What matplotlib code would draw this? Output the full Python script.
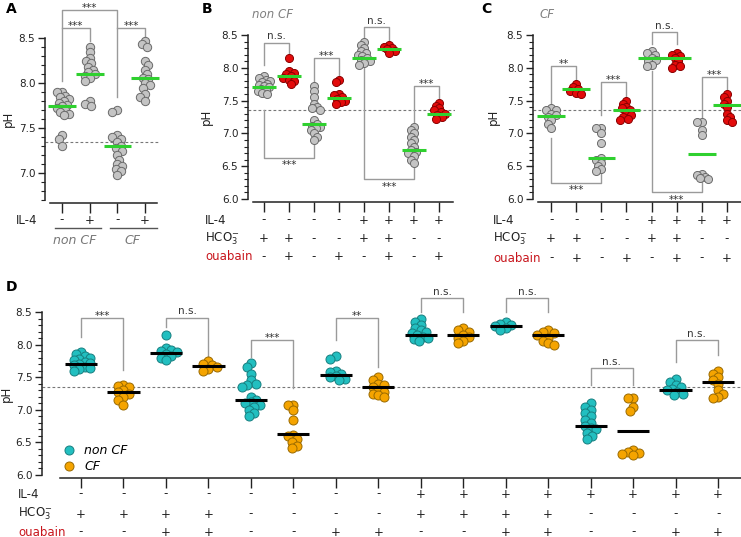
import numpy as np
import matplotlib.pyplot as plt
from matplotlib import transforms
from matplotlib.lines import Line2D
from matplotlib.ticker import MultipleLocator, FormatStrFormatter

W, H = 741, 537
plt.rcParams['font.family'] = ['DejaVu Sans']
plt.rcParams['mathtext.fontset'] = 'dejavusans'

# ---------------- data ----------------
# A: non CF -IL-4, non CF +IL-4, CF -IL-4, CF +IL-4
a_groups = [
    [7.90, 7.90, 7.86, 7.84, 7.82, 7.80, 7.78, 7.76, 7.74, 7.72, 7.70, 7.68, 7.66, 7.64, 7.42, 7.38, 7.30],
    [8.40, 8.34, 8.28, 8.24, 8.22, 8.18, 8.15, 8.12, 8.10, 8.08, 8.05, 8.02, 7.80, 7.77, 7.75],
    [7.70, 7.68, 7.42, 7.40, 7.38, 7.34, 7.30, 7.28, 7.25, 7.20, 7.15, 7.10, 7.08, 7.05, 7.02, 6.98],
    [8.47, 8.43, 8.40, 8.24, 8.20, 8.15, 8.10, 8.06, 8.04, 8.00, 7.98, 7.95, 7.88, 7.85, 7.80],
]
a_means = [7.75, 8.10, 7.30, 8.05]
a_il4 = ['-', '+', '-', '+']

# B: non CF, 8 conditions
b_groups = [
    [7.88, 7.85, 7.82, 7.80, 7.78, 7.76, 7.74, 7.72, 7.70, 7.68, 7.66, 7.64, 7.62, 7.60],
    [8.15, 7.95, 7.92, 7.90, 7.88, 7.85, 7.82, 7.80, 7.76],
    [7.72, 7.65, 7.55, 7.45, 7.40, 7.38, 7.35, 7.20, 7.15, 7.12, 7.10, 7.08, 7.05, 7.00, 6.95, 6.90],
    [7.82, 7.78, 7.60, 7.58, 7.55, 7.52, 7.50, 7.48, 7.45],
    [8.40, 8.35, 8.30, 8.25, 8.22, 8.20, 8.18, 8.15, 8.12, 8.10, 8.08, 8.05],
    [8.35, 8.32, 8.30, 8.28, 8.25, 8.22],
    [7.10, 7.05, 7.00, 6.95, 6.90, 6.85, 6.80, 6.75, 6.72, 6.70, 6.65, 6.60, 6.55],
    [7.47, 7.42, 7.38, 7.35, 7.32, 7.30, 7.28, 7.25, 7.22],
]
b_means = [7.71, 7.87, 7.15, 7.54, 8.15, 8.29, 6.75, 7.30]

# C: CF, 8 conditions
c_groups = [
    [7.38, 7.36, 7.35, 7.30, 7.28, 7.25, 7.20, 7.15, 7.08],
    [7.75, 7.70, 7.68, 7.65, 7.62, 7.60],
    [7.08, 7.08, 7.00, 6.85, 6.62, 6.60, 6.55, 6.50, 6.45, 6.42],
    [7.50, 7.45, 7.40, 7.38, 7.35, 7.30, 7.28, 7.25, 7.22, 7.20],
    [8.25, 8.22, 8.20, 8.15, 8.12, 8.10, 8.05, 8.02],
    [8.22, 8.20, 8.18, 8.15, 8.10, 8.05, 8.02, 8.00],
    [7.18, 7.18, 7.05, 6.98, 6.38, 6.36, 6.34, 6.32, 6.30],
    [7.60, 7.55, 7.50, 7.45, 7.40, 7.30, 7.25, 7.20, 7.18],
]
c_means = [7.27, 7.67, 6.63, 7.35, 8.15, 8.15, 6.68, 7.43]

il4 = ['-', '-', '-', '-', '+', '+', '+', '+']
hco3 = ['+', '+', '-', '-', '+', '+', '-', '-']
ouabain = ['-', '+', '-', '+', '-', '+', '-', '+']

# brackets: (x1, x2, level, end1, end2, label)
a_sig = [(1, 3, 8.81, 8.02, 7.84, '***'), (1, 2, 8.61, 8.61, 8.47, '***'),
         (3, 4, 8.61, 8.61, 8.47, '***')]
b_sig = [(1, 2, 8.38, 8.05, 8.20, 'n.s.'), (3, 4, 8.15, 7.78, 7.87, '***'),
         (5, 6, 8.62, 8.45, 8.38, 'n.s.'), (7, 8, 7.72, 7.12, 7.50, '***'),
         (1, 3, 6.63, 7.36, 6.88, '***'), (5, 7, 6.30, 8.00, 6.52, '***')]
c_sig = [(1, 2, 8.03, 7.43, 7.80, '**'), (3, 4, 7.78, 7.28, 7.56, '***'),
         (5, 6, 8.54, 8.37, 8.37, 'n.s.'), (7, 8, 7.86, 7.25, 7.68, '***'),
         (1, 3, 6.25, 6.93, 6.45, '***'), (5, 7, 6.10, 7.95, 6.28, '***')]
d_sig = [(1, 2, 8.41, 8.12, 7.61, '***'), (3, 4, 8.41, 8.27, 7.81, 'n.s.'),
         (5, 6, 8.07, 7.81, 7.33, '***'), (7, 8, 8.41, 8.07, 7.66, '**'),
         (9, 10, 8.71, 8.50, 8.50, 'n.s.'), (11, 12, 8.71, 8.50, 8.50, 'n.s.'),
         (13, 14, 7.64, 7.38, 7.38, 'n.s.'), (15, 16, 8.07, 7.73, 7.84, 'n.s.')]

# D = B and C side by side
d_groups = [g for pair in zip(b_groups, c_groups) for g in pair]
d_means = [m for pair in zip(b_means, c_means) for m in pair]
d_il4 = [s for s in il4 for _ in range(2)]
d_hco3 = [s for s in hco3 for _ in range(2)]
d_ouab = [s for s in ouabain for _ in range(2)]

GRAY, GRAY_E = '#c4c4c4', '#6a6a6a'
RED, RED_E = '#e30b0b', '#8a0000'
TEAL, TEAL_E = '#22bfc0', '#177f80'
ORANGE, ORANGE_E = '#f5a400', '#9a6a00'
GREEN = '#2fd02f'
BR = '#9a9a9a'
OUAB = '#c8161d'
TXT = '#222222'

fig = plt.figure(figsize=(W / 100, H / 100), dpi=100)


def make_ax(left, right, top, bottom, xlim, ylim, xspine, ylab_px):
    ax = fig.add_axes([left / W, 1 - bottom / H, (right - left) / W, (bottom - top) / H])
    ax.set_xlim(*xlim)
    ax.set_ylim(*ylim)
    ax.patch.set_alpha(0)
    for s in ['top', 'right']:
        ax.spines[s].set_visible(False)
    ax.spines['bottom'].set_position(('outward', 2))
    ax.spines['bottom'].set_bounds(*xspine)
    for s in ['left', 'bottom']:
        ax.spines[s].set_linewidth(1.1)
        ax.spines[s].set_color(TXT)
    ax.yaxis.set_major_locator(MultipleLocator(0.5))
    ax.yaxis.set_minor_locator(MultipleLocator(0.1))
    ax.yaxis.set_major_formatter(FormatStrFormatter('%.1f'))
    ax.tick_params(axis='y', which='major', length=5, width=1, labelsize=7.5, pad=2, colors=TXT)
    ax.tick_params(axis='y', which='minor', length=3, width=0.8, colors=TXT)
    n = int(xlim[1])
    ax.set_xticks(range(1, n + 1))
    ax.tick_params(axis='x', length=7, width=1, labelbottom=False, colors=TXT)
    ax.set_ylabel('pH', fontsize=8.5, color=TXT)
    ax.yaxis.set_label_coords((ylab_px - left) / (right - left), 0.5)
    ax.axhline(7.35, color='#777777', lw=0.8, ls=(0, (2.5, 2)), zorder=1)
    return ax


def swarm(ax, x0, vals, d_px, tight=0.5):
    pts = ax.transData.transform(np.column_stack([np.full(len(vals), x0), vals]))
    ux = ax.transData.transform([(1, 0)])[0, 0] - ax.transData.transform([(0, 0)])[0, 0]
    placed = []
    offs = np.zeros(len(vals))
    step = d_px / 5
    lim = (tight * d_px) ** 2
    for j, i in enumerate(np.argsort(-np.asarray(vals), kind='stable')):
        y = pts[i, 1]
        found = 0.0
        for k in range(80):
            sg = 1 if j % 2 == 0 else -1
            cands = [0.0] if k == 0 else [sg * k * step, -sg * k * step]
            ok = [c for c in cands if all((c - ox) ** 2 + (y - oy) ** 2 >= lim for ox, oy in placed)]
            if ok:
                found = ok[0]
                break
        placed.append((found, y))
        offs[i] = found
    return x0 + offs / ux


def draw(ax, groups, means, fills, edges, d_pt, mcolor, hw, tight=0.5):
    d_px = d_pt * 100 / 72
    for i, vals in enumerate(groups):
        x0 = i + 1
        xs = swarm(ax, x0, vals, d_px, tight)
        ax.scatter(xs, vals, s=d_pt ** 2, c=fills[i], edgecolors=edges[i], linewidths=0.7,
                   zorder=3, clip_on=False)
        ax.plot([x0 - hw, x0 + hw], [means[i], means[i]], color=mcolor, lw=2.2, zorder=4,
                solid_capstyle='butt')


def brackets(ax, sig, fs=7.5):
    for x1, x2, lev, e1, e2, lab in sig:
        ax.plot([x1, x1, x2, x2], [e1, lev, lev, e2], color=BR, lw=1, zorder=2, clip_on=False)
        below = lev < min(e1, e2)
        star = lab.startswith('*')
        if below:
            ax.annotate(lab, ((x1 + x2) / 2, lev), xytext=(0, -2 if star else -3),
                        textcoords='offset points', ha='center', va='top', fontsize=fs,
                        color='#333333', annotation_clip=False)
        else:
            ax.annotate(lab, ((x1 + x2) / 2, lev), xytext=(0, -2 if star else 1),
                        textcoords='offset points', ha='center', va='bottom', fontsize=fs,
                        color='#333333', annotation_clip=False)


def rows(ax, rowlabels, ys_px, fs=8.5):
    tr = transforms.blended_transform_factory(ax.transData, fig.transFigure)
    for labels, ypx in zip(rowlabels, ys_px):
        for i, s in enumerate(labels):
            ax.text(i + 1, 1 - ypx / H, s, transform=tr, ha='center', va='center', fontsize=fs,
                    color=TXT)


def row_names(x_px, ys_px, fs=8.5):
    names = ['IL-4', 'HCO$_3^{-}$', 'ouabain']
    cols = [TXT, TXT, OUAB]
    for name, c, ypx in zip(names, cols, ys_px):
        fig.text(x_px / W, 1 - ypx / H, name, ha='left', va='center', fontsize=fs, color=c)


# ---------------- panel A ----------------
axA = make_ax(45, 160, 38, 200, (0.386, 4.54), (6.7, 8.5), (0.57, 4.43), 15)
draw(axA, a_groups, a_means, [GRAY] * 4, [GRAY_E] * 4, 6.0, GREEN, 0.5, tight=0.55)
brackets(axA, a_sig)
rows(axA, [a_il4], [220])
fig.text(16 / W, 1 - 220 / H, 'IL-4', ha='left', va='center', fontsize=8.5, color=TXT)
trA = transforms.blended_transform_factory(axA.transData, fig.transFigure)
for xa, xb in [(0.74, 2.40), (2.73, 4.43)]:
    axA.plot([xa, xb], [1 - 228 / H] * 2, color='#555555', lw=1, transform=trA, clip_on=False)
axA.text(1.47, 1 - 241 / H, 'non CF', transform=trA, ha='center', va='center', fontsize=9,
         style='italic', color='#777777')
axA.text(3.55, 1 - 241 / H, 'CF', transform=trA, ha='center', va='center', fontsize=9,
         style='italic', color='#777777')

# ---------------- panel B ----------------
axB = make_ax(248, 455, 35, 199, (0.36, 8.64), (6.0, 8.5), (0.56, 8.56), 213)
draw(axB, b_groups, b_means, [GRAY, RED] * 4, [GRAY_E, RED_E] * 4, 5.8, GREEN, 0.48)
brackets(axB, b_sig)
rows(axB, [il4, hco3, ouabain], [220, 239, 257])
row_names(205, [220, 239, 257])
fig.text(252 / W, 1 - 14 / H, 'non CF', ha='left', va='center', fontsize=8.5, style='italic',
         color='#808080')

# ---------------- panel C ----------------
axC = make_ax(533, 741, 35, 199, (0.28, 8.56), (6.0, 8.5), (0.48, 8.56), 500)
draw(axC, c_groups, c_means, [GRAY, RED] * 4, [GRAY_E, RED_E] * 4, 5.8, GREEN, 0.55)
brackets(axC, c_sig)
rows(axC, [il4, hco3, ouabain], [220, 239, 258])
row_names(493, [220, 239, 258])
fig.text(539 / W, 1 - 14 / H, 'CF', ha='left', va='center', fontsize=8.5, style='italic',
         color='#808080')

# ---------------- panel D ----------------
axD = make_ax(42, 741, 312, 475, (0.082, 16.54), (6.0, 8.5), (0.5, 16.54), 13)
draw(axD, d_groups, d_means, [TEAL, ORANGE] * 8, [TEAL_E, ORANGE_E] * 8, 6.5, 'black', 0.38,
     tight=0.55)
brackets(axD, d_sig)
rows(axD, [d_il4, d_hco3, d_ouab], [494, 514, 532])
row_names(18, [494, 514, 532])
handles = [Line2D([], [], ls='', marker='o', ms=6.5, mfc=TEAL, mec=TEAL_E, mew=0.7),
           Line2D([], [], ls='', marker='o', ms=6.5, mfc=ORANGE, mec=ORANGE_E, mew=0.7)]
axD.legend(handles, ['non CF', 'CF'], loc='upper left', bbox_to_anchor=(58 / W, 1 - 439 / H),
           bbox_transform=fig.transFigure, frameon=False, prop={'style': 'italic', 'size': 9},
           handletextpad=0.7, labelspacing=0.25, borderaxespad=0, handlelength=1.0)

# panel letters
for lab, x, y in [('A', 6, 9), ('B', 202, 9), ('C', 481, 9), ('D', 6, 287)]:
    fig.text(x / W, 1 - y / H, lab, ha='left', va='center', fontsize=10, fontweight='bold')

fig.savefig('out.png', dpi=100)
